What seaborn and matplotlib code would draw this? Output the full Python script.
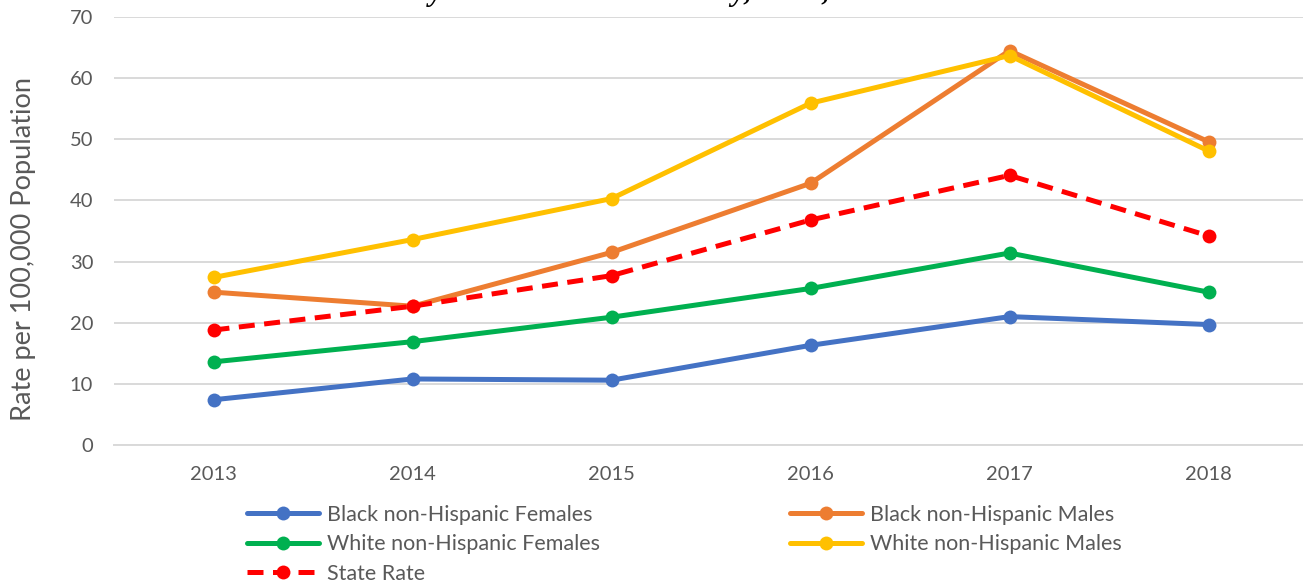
import matplotlib
matplotlib.use("Agg")
import matplotlib.pyplot as plt
import seaborn as sns
import pandas as pd

years = [2013, 2014, 2015, 2016, 2017, 2018]
black_females = [7.4, 10.8, 10.6, 16.3, 21.0, 19.7]
black_males = [25.0, 22.7, 31.5, 42.8, 64.5, 49.6]
white_females = [13.6, 16.9, 20.9, 25.6, 31.4, 25.0]
white_males = [27.4, 33.6, 40.3, 55.9, 63.7, 48.1]
state_rate = [18.8, 22.7, 27.7, 36.8, 44.1, 34.2]

series_names = ["Black non-Hispanic Females", "Black non-Hispanic Males",
                "White non-Hispanic Females", "White non-Hispanic Males",
                "State Rate"]
series_values = [black_females, black_males, white_females, white_males, state_rate]
colors = ["#4472C4", "#ED7D31", "#00B050", "#FFC000", "#FF0000"]

ylabel = "Rate per 100,000 Population"
subtitle = "by Sex and Race/Ethnicity, Ohio, 2013-2018"

sns.set_theme(style="white")
plt.rcParams["font.family"] = ["Lato", "DejaVu Sans"]

W, H = 1303, 583
fig = plt.figure(figsize=(W / 100, H / 100), dpi=100)
ax = fig.add_axes([114 / W, 138 / H, (1308 - 114) / W, (445 - 17) / H])

lw = 3.6
for name, vals, col in zip(series_names, series_values, colors):
    df = pd.DataFrame({"year": years, "value": vals})
    sns.lineplot(data=df, x="year", y="value", ax=ax, color=col, linewidth=lw,
                 marker="o", markersize=10, markeredgewidth=0,
                 label=name, solid_capstyle="round", dashes=False)
    if name == "State Rate":
        ln = ax.get_lines()[-1]
        ln.set_dashes((3.2, 1.9))
        ln.set_dash_capstyle("butt")

ax.set_xlim(2012.5, 2018.5)
ax.set_ylim(0, 70)
ax.set_yticks(range(0, 71, 10))
ax.set_xticks(years)
ax.grid(axis="y", color="#D9D9D9", linewidth=1.4)
ax.grid(axis="x", visible=False)
for s in ["top", "right", "left"]:
    ax.spines[s].set_visible(False)
ax.spines["bottom"].set_color("#D9D9D9")
ax.spines["bottom"].set_linewidth(1.4)
ax.tick_params(axis="both", length=0, labelsize=14.5, labelcolor="#595959")
ax.tick_params(axis="x", pad=15)
ax.tick_params(axis="y", pad=15)
ax.set_xlabel("")
ax.set_ylabel(ylabel, fontsize=19.5, color="#595959")
ax.yaxis.set_label_coords(-78 / (1308 - 114), 0.459)

handles, labels = ax.get_legend_handles_labels()
ax.get_legend().remove()
order = [0, 2, 4, 1, 3]
leg = fig.legend([handles[i] for i in order], [labels[i] for i in order],
                 ncol=2, loc="upper left", bbox_to_anchor=(247 / W, 1 - 505 / H),
                 frameon=False, fontsize=15.5, handlelength=3.35,
                 handletextpad=0.37, columnspacing=8.8, labelspacing=0.43,
                 borderaxespad=0, borderpad=0)
for t in leg.get_texts():
    t.set_color("#595959")

fig.text(0.531, 1.0, subtitle, ha="center", va="baseline",
         fontsize=22, fontstyle="italic", fontweight="bold",
         family=["Liberation Serif", "DejaVu Serif"], color="#000000")

fig.savefig("out.png", dpi=100)
